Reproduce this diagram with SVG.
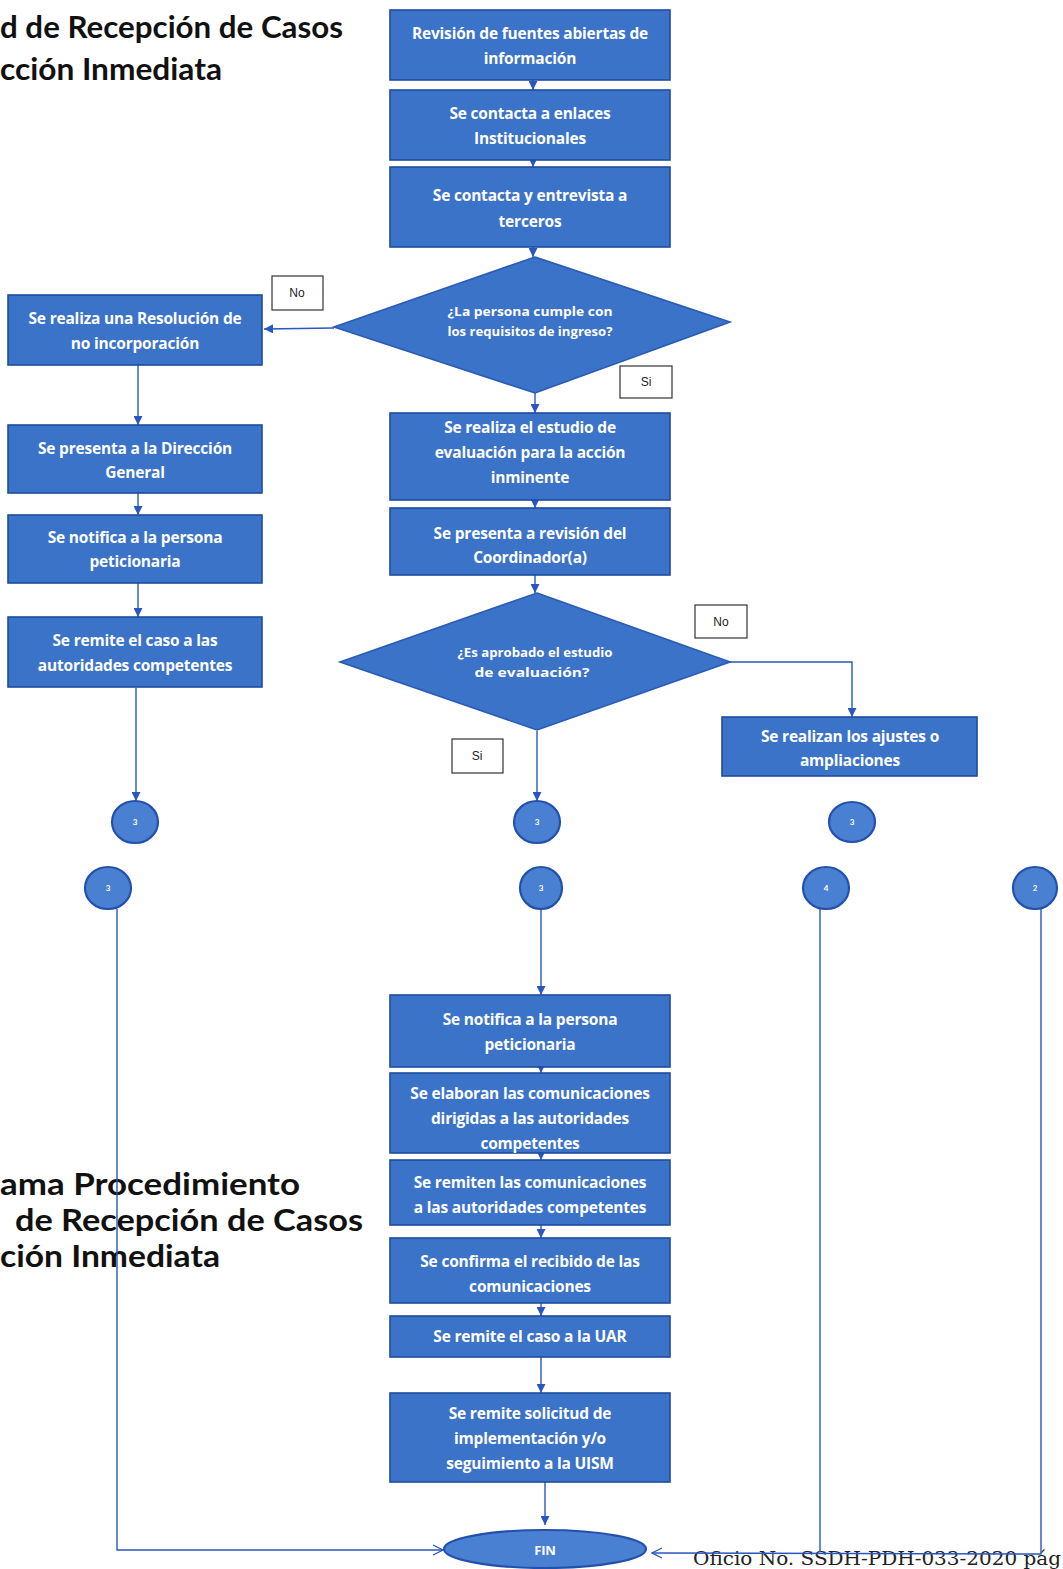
<svg xmlns="http://www.w3.org/2000/svg" width="1063" height="1569" viewBox="0 0 1063 1569">
<defs>
<style>
.box{fill:#3b73c8;stroke:#1f4c9e;stroke-width:1.6}
.dia{fill:#3b73c8;stroke:#2a5bb5;stroke-width:1.6}
.circ{fill:#4a80d2;stroke:#2450ad;stroke-width:2.2}
.bt{font-family:"Open Sans",Lato,sans-serif;font-weight:bold;font-size:15.5px;fill:#fff;text-anchor:middle;letter-spacing:-0.2px}
.dt{font-family:"Open Sans",Lato,sans-serif;font-weight:bold;font-size:12px;fill:#fff;text-anchor:middle}
.ct{font-family:Lato,sans-serif;font-weight:bold;font-size:8px;fill:#fff;text-anchor:middle}
.lbl{fill:#fff;stroke:#333;stroke-width:1.2}
.lt{font-family:"Liberation Sans",sans-serif;font-size:12px;fill:#222;text-anchor:middle}
.ttl{font-family:Lato,"Open Sans",sans-serif;font-weight:bold;font-size:30px;fill:#111}
.ln{fill:none;stroke:#2a56bf;stroke-width:1.4}
</style>
<marker id="arr" viewBox="0 0 10 10" refX="10" refY="5" markerWidth="9" markerHeight="9" markerUnits="userSpaceOnUse" orient="auto">
<path d="M0,0 L10,5 L0,10 Z" fill="#2a56bf"/>
</marker>
<marker id="open" viewBox="0 0 12 12" refX="11" refY="6" markerWidth="12" markerHeight="12" markerUnits="userSpaceOnUse" orient="auto">
<path d="M1,1 L11,6 L1,11" fill="none" stroke="#2a56bf" stroke-width="1.3"/>
</marker>
</defs>
<rect width="1063" height="1569" fill="#fff"/>

<g id="titles">
<text class="ttl" x="0" y="38" textLength="343" lengthAdjust="spacingAndGlyphs">d de Recepción de Casos</text>
<text class="ttl" x="0" y="80" textLength="222" lengthAdjust="spacingAndGlyphs">cción Inmediata</text>
<text class="ttl" x="0" y="1195" textLength="300" lengthAdjust="spacingAndGlyphs">ama Procedimiento</text>
<text class="ttl" x="15" y="1231" textLength="348" lengthAdjust="spacingAndGlyphs">de Recepción de Casos</text>
<text class="ttl" x="0" y="1267" textLength="220" lengthAdjust="spacingAndGlyphs">ción Inmediata</text>
<text x="693" y="1565" font-family="'DejaVu Serif','Liberation Serif',serif" font-size="18" fill="#222" textLength="368" lengthAdjust="spacingAndGlyphs">Oficio No. SSDH-PDH-033-2020 pág</text>
</g>

<g id="connectors">
<line class="ln" x1="533" y1="80" x2="533" y2="90" marker-end="url(#arr)"/>
<line class="ln" x1="533" y1="160" x2="533" y2="167" marker-end="url(#arr)"/>
<line class="ln" x1="533" y1="247" x2="533" y2="257" marker-end="url(#arr)"/>
<line class="ln" x1="334" y1="328" x2="264" y2="329" marker-end="url(#arr)"/>
<line class="ln" x1="535" y1="393" x2="535" y2="413" marker-end="url(#arr)"/>
<line class="ln" x1="535" y1="500" x2="535" y2="508" marker-end="url(#arr)"/>
<line class="ln" x1="535" y1="575" x2="535" y2="593" marker-end="url(#arr)"/>
<polyline class="ln" points="730,662 852,662 852,717" marker-end="url(#arr)"/>
<line class="ln" x1="537" y1="731" x2="537" y2="801" marker-end="url(#arr)"/>
<line class="ln" x1="138" y1="365" x2="138" y2="425" marker-end="url(#arr)"/>
<line class="ln" x1="138" y1="493" x2="138" y2="515" marker-end="url(#arr)"/>
<line class="ln" x1="138" y1="583" x2="138" y2="617" marker-end="url(#arr)"/>
<line class="ln" x1="136" y1="688" x2="136" y2="801" marker-end="url(#arr)"/>
<line class="ln" x1="541" y1="909" x2="541" y2="995" marker-end="url(#arr)"/>
<line class="ln" x1="541" y1="1067" x2="541" y2="1073" marker-end="url(#arr)"/>
<line class="ln" x1="541" y1="1153" x2="541" y2="1160" marker-end="url(#arr)"/>
<line class="ln" x1="541" y1="1225" x2="541" y2="1238" marker-end="url(#arr)"/>
<line class="ln" x1="541" y1="1303" x2="541" y2="1316" marker-end="url(#arr)"/>
<line class="ln" x1="541" y1="1357" x2="541" y2="1393" marker-end="url(#arr)"/>
<line class="ln" x1="545" y1="1482" x2="545" y2="1525" marker-end="url(#arr)"/>
<polyline class="ln" points="117,909 117,1550 443,1550" marker-end="url(#open)"/>
<line class="ln" x1="820" y1="909" x2="820" y2="1552"/>
<polyline class="ln" points="1041,909 1041,1554 652,1553" marker-end="url(#open)"/>
</g>

<g id="n-fuentes"><rect class="box" x="390" y="10" width="280" height="70"/>
<text class="bt" x="530" y="39">Revisión de fuentes abiertas de</text><text class="bt" x="530" y="64">información</text></g>
<g id="n-enlaces"><rect class="box" x="390" y="90" width="280" height="70"/>
<text class="bt" x="530" y="119">Se contacta a enlaces</text><text class="bt" x="530" y="144">Institucionales</text></g>
<g id="n-terceros"><rect class="box" x="390" y="167" width="280" height="80"/>
<text class="bt" x="530" y="201">Se contacta y entrevista a</text><text class="bt" x="530" y="227">terceros</text></g>

<g id="d-requisitos"><polygon class="dia" points="535,257 730,322 535,393 334,327"/>
<text class="dt" x="530" y="316" textLength="165" lengthAdjust="spacingAndGlyphs">¿La persona cumple con</text><text class="dt" x="530" y="336" textLength="165" lengthAdjust="spacingAndGlyphs">los requisitos de ingreso?</text></g>
<g id="l-no1"><rect class="lbl" x="272" y="276" width="51" height="34"/><text class="lt" x="297" y="297">No</text></g>
<g id="l-si1"><rect class="lbl" x="620" y="366" width="52" height="32"/><text class="lt" x="646" y="386">Si</text></g>

<g id="n-resolucion"><rect class="box" x="8" y="295" width="254" height="70"/>
<text class="bt" x="135" y="324">Se realiza una Resolución de</text><text class="bt" x="135" y="349">no incorporación</text></g>
<g id="n-direccion"><rect class="box" x="8" y="425" width="254" height="68"/>
<text class="bt" x="135" y="454">Se presenta a la Dirección</text><text class="bt" x="135" y="478">General</text></g>
<g id="n-notifica1"><rect class="box" x="8" y="515" width="254" height="68"/>
<text class="bt" x="135" y="543">Se notifica a la persona</text><text class="bt" x="135" y="567">peticionaria</text></g>
<g id="n-remite1"><rect class="box" x="8" y="617" width="254" height="70"/>
<text class="bt" x="135" y="646">Se remite el caso a las</text><text class="bt" x="135" y="671">autoridades competentes</text></g>

<g id="n-estudio"><rect class="box" x="390" y="413" width="280" height="87"/>
<text class="bt" x="530" y="433">Se realiza el estudio de</text><text class="bt" x="530" y="458">evaluación para la acción</text><text class="bt" x="530" y="483">inminente</text></g>
<g id="n-revision"><rect class="box" x="390" y="508" width="280" height="67"/>
<text class="bt" x="530" y="539">Se presenta a revisión del</text><text class="bt" x="530" y="563">Coordinador(a)</text></g>

<g id="d-aprobado"><polygon class="dia" points="537,593 730,662 537,730 340,662"/>
<text class="dt" x="535" y="657" textLength="155" lengthAdjust="spacingAndGlyphs">¿Es aprobado el estudio</text><text class="dt" x="532" y="677" textLength="115" lengthAdjust="spacingAndGlyphs">de evaluación?</text></g>
<g id="l-no2"><rect class="lbl" x="695" y="605" width="52" height="33"/><text class="lt" x="721" y="626">No</text></g>
<g id="l-si2"><rect class="lbl" x="452" y="739" width="51" height="34"/><text class="lt" x="477" y="760">Si</text></g>

<g id="n-ajustes"><rect class="box" x="722" y="717" width="255" height="59"/>
<text class="bt" x="850" y="742">Se realizan los ajustes o</text><text class="bt" x="850" y="766">ampliaciones</text></g>

<g id="c1"><ellipse class="circ" cx="135" cy="822" rx="23" ry="21"/><text class="ct" x="135" y="825">3</text></g>
<g id="c2"><ellipse class="circ" cx="537" cy="822" rx="23" ry="21"/><text class="ct" x="537" y="825">3</text></g>
<g id="c3"><ellipse class="circ" cx="852" cy="822" rx="23" ry="20"/><text class="ct" x="852" y="825">3</text></g>
<g id="c4"><ellipse class="circ" cx="108" cy="888" rx="23" ry="21"/><text class="ct" x="108" y="891">3</text></g>
<g id="c5"><ellipse class="circ" cx="541" cy="888" rx="21" ry="21"/><text class="ct" x="541" y="891">3</text></g>
<g id="c6"><ellipse class="circ" cx="826" cy="888" rx="23" ry="21"/><text class="ct" x="826" y="891">4</text></g>
<g id="c7"><ellipse class="circ" cx="1035" cy="888" rx="22" ry="21"/><text class="ct" x="1035" y="891">2</text></g>

<g id="n-notifica2"><rect class="box" x="390" y="995" width="280" height="72"/>
<text class="bt" x="530" y="1025">Se notifica a la persona</text><text class="bt" x="530" y="1050">peticionaria</text></g>
<g id="n-elaboran"><rect class="box" x="390" y="1073" width="280" height="80"/>
<text class="bt" x="530" y="1099">Se elaboran las comunicaciones</text><text class="bt" x="530" y="1124">dirigidas a las autoridades</text><text class="bt" x="530" y="1149">competentes</text></g>
<g id="n-remiten"><rect class="box" x="390" y="1160" width="280" height="65"/>
<text class="bt" x="530" y="1188">Se remiten las comunicaciones</text><text class="bt" x="530" y="1213">a las autoridades competentes</text></g>
<g id="n-confirma"><rect class="box" x="390" y="1238" width="280" height="65"/>
<text class="bt" x="530" y="1267">Se confirma el recibido de las</text><text class="bt" x="530" y="1292">comunicaciones</text></g>
<g id="n-uar"><rect class="box" x="390" y="1316" width="280" height="41"/>
<text class="bt" x="530" y="1342">Se remite el caso a la UAR</text></g>
<g id="n-uism"><rect class="box" x="390" y="1393" width="280" height="89"/>
<text class="bt" x="530" y="1419">Se remite solicitud de</text><text class="bt" x="530" y="1444">implementación y/o</text><text class="bt" x="530" y="1469">seguimiento a la UISM</text></g>

<g id="n-fin"><ellipse class="circ" cx="545" cy="1549" rx="101" ry="19"/>
<text class="bt" x="545" y="1555" style="font-size:13px">FIN</text></g>
</svg>
